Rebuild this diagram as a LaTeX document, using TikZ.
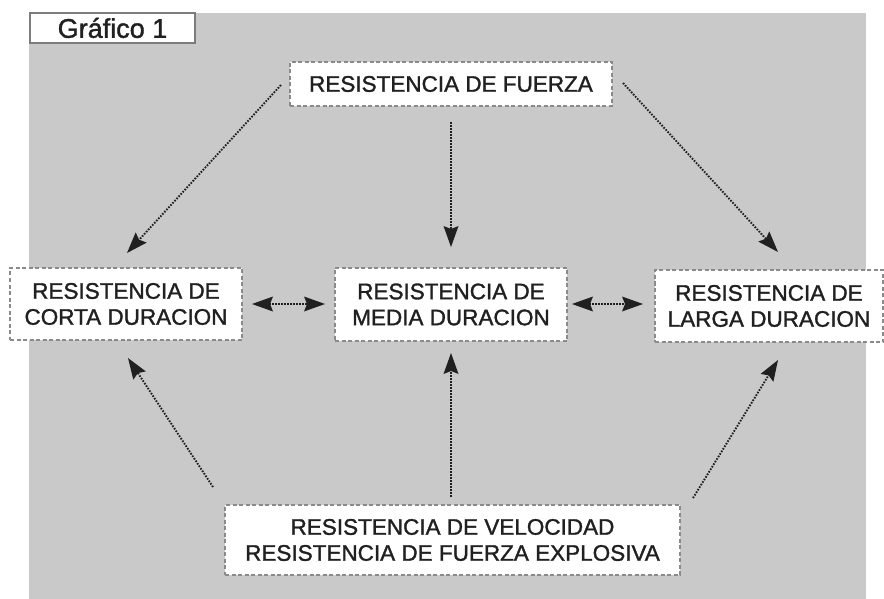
\documentclass[tikz,border=0pt]{standalone}
\usepackage{fontspec}
\setmainfont{Liberation Sans}
\newfontfamily\labfont[FakeBold=1.4]{Liberation Sans}
\usetikzlibrary{decorations.markings}
\definecolor{panel}{HTML}{C9C9C9}
\definecolor{ink}{HTML}{202020}
\definecolor{edge}{HTML}{8A8A8A}
\tikzset{
  dbox/.style={draw=edge, dash pattern=on 4pt off 2.5pt, line width=1.2pt, fill=white,
    text=ink, align=center, inner sep=0pt, font=\labfont\fontsize{22.5}{26}\selectfont},
  tbox/.style={draw=edge!90!black, line width=1.2pt, fill=white, text=ink, inner sep=0pt,
    font=\labfont\fontsize{27}{28}\selectfont},
  headend/.style={postaction={decorate, decoration={markings,
    mark=at position 1 with {\fill[ink] (0pt,0pt) -- (-21pt,7.5pt) -- (-18pt,0pt) -- (-21pt,-7.5pt) -- cycle;}}}},
  headstart/.style={postaction={decorate, decoration={markings,
    mark=at position 0 with {\fill[ink] (0pt,0pt) -- (21pt,7.5pt) -- (18pt,0pt) -- (21pt,-7.5pt) -- cycle;}}}},
  arr/.style={draw=ink, line width=1.9pt, dash pattern=on 1.6pt off 1.4pt, shorten >=17pt, headend},
  darr/.style={draw=ink, line width=1.9pt, dash pattern=on 1.6pt off 1.4pt, shorten >=17pt, shorten <=17pt, headend, headstart},
}
\begin{document}
\begin{tikzpicture}[x=1pt,y=-1pt]
\useasboundingbox (0,0) rectangle (884,599);
\fill[white] (0,0) rectangle (884,599);
\fill[panel] (29,13) rectangle (866,599);

\node[tbox, minimum width=165pt, minimum height=30pt] (g) at (112.5,28) {Gráfico 1};

\node[dbox, minimum width=322pt, minimum height=44pt] (F) at (451,84) {RESISTENCIA DE FUERZA};
\node[dbox, minimum width=232pt, minimum height=72pt] (C) at (126,304) {RESISTENCIA DE\\CORTA DURACION};
\node[dbox, minimum width=232pt, minimum height=73pt] (M) at (451,304.5) {RESISTENCIA DE\\MEDIA DURACION};
\node[dbox, minimum width=228pt, minimum height=72pt] (L) at (769,306) {RESISTENCIA DE\\LARGA DURACION};
\node[dbox, minimum width=455pt, minimum height=70pt] (B) at (452.5,540) {RESISTENCIA DE VELOCIDAD\\RESISTENCIA DE FUERZA EXPLOSIVA};

% free ends of connectors
\coordinate (fl) at (281,85);
\coordinate (fm) at (451,122);
\coordinate (fr) at (623,83);
\coordinate (ct) at (127,253);
\coordinate (mt) at (451,247);
\coordinate (lt) at (778,252);
\coordinate (cb) at (128,358);
\coordinate (mb) at (451,353);
\coordinate (lb) at (778,360);
\coordinate (bl) at (213,487);
\coordinate (bm) at (451,497);
\coordinate (br) at (693,498);
\coordinate (c1) at (252,304);
\coordinate (m1) at (325,304);
\coordinate (m2) at (572,304);
\coordinate (l1) at (643,304);

\draw[arr] (fl) -- (ct);
\draw[arr] (fm) -- (mt);
\draw[arr] (fr) -- (lt);
\draw[arr] (bl) -- (cb);
\draw[arr] (bm) -- (mb);
\draw[arr] (br) -- (lb);
\draw[darr] (c1) -- (m1);
\draw[darr] (m2) -- (l1);
\end{tikzpicture}
\end{document}
